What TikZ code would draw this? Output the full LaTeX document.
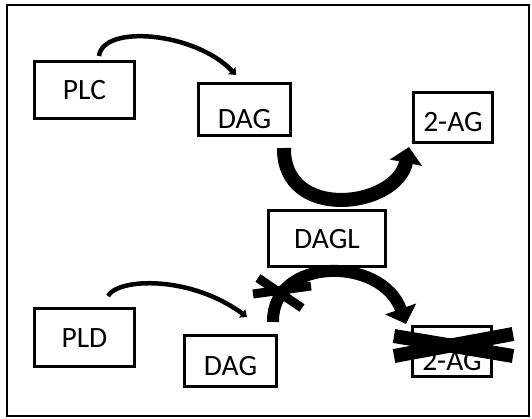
\documentclass[tikz,border=0pt]{standalone}
\usepackage{fontspec}
\setmainfont{Carlito}
\usetikzlibrary{arrows.meta}

\begin{document}
\begin{tikzpicture}[x=1pt,y=-1pt,
    box/.style={draw,line width=3pt,fill=white,inner sep=0pt,
      font=\fontsize{29.5}{29.5}\selectfont,text height=19pt,text depth=0pt},
    thin arrow/.style={line width=4.5pt,-{Triangle[width=10pt,length=6pt]}},
    big arrow/.style={line width=#1,-{Triangle[width=32pt,length=16pt]}},
    cross/.style={line width=#1}]
      \useasboundingbox (0,0) rectangle (532,418);
      \draw[line width=2.5pt] (7,5) rectangle (529,416);

      \node[box,minimum width=100pt,minimum height=57pt] (PLC) at (84.5,90) {PLC};
      \node[box,minimum width=92pt,minimum height=52pt,text height=38pt] (DAGt) at (244.5,109.5) {DAG};
      \node[box,minimum width=79pt,minimum height=50pt,text height=28pt] (AGt) at (453,117.5) {2-AG};
      \node[box,minimum width=117pt,minimum height=56pt] (DAGL) at (327,238.5) {DAGL};
      \node[box,minimum width=100pt,minimum height=58pt] (PLD) at (84.5,337.5) {PLD};
      \node[box,minimum width=92pt,minimum height=51pt,text height=29pt] (DAGb) at (230.5,361) {DAG};
      \node[box,minimum width=79pt,minimum height=50pt,text height=37pt] (AGb) at (452,351.5) {2-AG};

      \draw[thin arrow] ([xshift=14.5pt,yshift=4pt]PLC.north) .. controls (103,24) and (195,32) .. ([xshift=-8.5pt,yshift=7pt]DAGt.north);
      \draw[thin arrow] ([xshift=23.5pt,yshift=11pt]PLD.north) .. controls (118,278) and (190,275) .. ([xshift=16.5pt,yshift=17pt]DAGb.north);

      \draw[big arrow=14pt] ([xshift=-8pt,yshift=-11pt]DAGt.south east) .. controls (283,222) and (397,208) .. ([xshift=-3pt,yshift=-3pt]AGt.south west);
      \draw[big arrow=12pt] ([xshift=-5pt,yshift=12pt]DAGb.north east) .. controls (272,256) and (382,256) .. ([xshift=-5pt,yshift=1pt]AGb.north west);

      % crossed out
      \draw[cross=9pt] (258,278) -- (302,308);
      \draw[cross=9pt] (253,294) -- (311,286);
      \draw[cross=14pt] (394,336) -- (513,356);
      \draw[cross=14pt] (394,356) -- (513,334);
\end{tikzpicture}
\end{document}
